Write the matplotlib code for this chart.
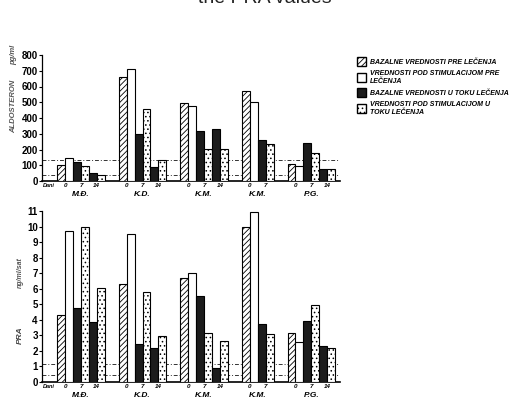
import numpy as np
import matplotlib
matplotlib.use("Agg")
import matplotlib.pyplot as plt
from matplotlib.patches import Patch
from matplotlib.transforms import blended_transform_factory

patients = ['M.Đ.', 'K.D.', 'K.M.', 'K.M.', 'P.G.']
days = [[0, 7, 14], [0, 7, 14], [0, 7, 14], [0, 7], [0, 7, 14]]

# aldosterone pg/ml
aldo_basal = [[100, 120, 53], [660, 297, 89], [497, 318, 327], [573, 263], [110, 242, 78]]
aldo_stim = [[148, 95, 40], [709, 460, 136], [475, 206, 204], [503, 233], [93, 178, 78]]
aldo_ref = [131, 40]

# PRA ng/ml/sat
pra_basal = [[4.3, 4.75, 3.86], [6.3, 2.47, 2.2], [6.72, 5.54, 0.87], [9.98, 3.73], [3.16, 3.94, 2.35]]
pra_stim = [[9.7, 9.98, 6.03], [9.55, 5.78, 2.99], [6.99, 3.16, 2.67], [10.94, 3.09], [2.58, 4.97, 2.17]]
pra_ref = [1.17, 0.43]

legend_labels = ['BAZALNE VREDNOSTI PRE LEČENJA',
                 'VREDNOSTI POD STIMULACIJOM PRE\nLEČENJA',
                 'BAZALNE VREDNOSTI U TOKU LEČENJA',
                 'VREDNOSTI POD STIMULACIJOM U\nTOKU LEČENJA']

plt.rcParams['font.family'] = ['Liberation Sans', 'DejaVu Sans']
plt.rcParams['hatch.linewidth'] = 0.6

BLACK = '#1c1c1c'
GAP = 1.75


def group_starts():
    starts = []
    x = 0.0
    for d in days:
        starts.append(x)
        x += 2 * len(d) + GAP
    return starts


def below(ax, x, s, dy, **kw):
    # text placed a fixed number of points under the x axis
    tr = blended_transform_factory(ax.transData, ax.transAxes)
    ax.annotate(s, xy=(x, 0), xycoords=tr, xytext=(0, dy), textcoords='offset points',
                ha=kw.pop('ha', 'center'), va='center', fontstyle='italic',
                fontweight='bold', annotation_clip=False, **kw)


def draw(ax, basal, stim, ref, ymax, yticks):
    starts = group_starts()
    for g, x0 in enumerate(starts):
        for i, d in enumerate(days[g]):
            xb = x0 + 2 * i
            if i == 0:
                ax.bar(xb, basal[g][i], 1, align='edge', facecolor='white',
                       edgecolor='black', hatch='//////', lw=0.8, zorder=3)
                ax.bar(xb + 1, stim[g][i], 1, align='edge', facecolor='white',
                       edgecolor='black', lw=0.8, zorder=3)
            else:
                ax.bar(xb, basal[g][i], 1, align='edge', facecolor=BLACK,
                       edgecolor='black', lw=0.8, zorder=3)
                ax.bar(xb + 1, stim[g][i], 1, align='edge', facecolor='white',
                       edgecolor='black', hatch='....', lw=0.8, zorder=3)
            below(ax, xb + 1, str(d), -3.5, fontsize=4.5)
        below(ax, x0 + len(days[g]), patients[g], -9.5, fontsize=6)
    below(ax, -1.8, 'Dani', -3.5, fontsize=4, ha='left')
    for r in ref:
        ax.axhline(r, color='#333333', lw=0.7, ls=(0, (4, 2, 1, 2)), zorder=1)
    ax.set_xlim(-1.9, 35.6)
    ax.set_ylim(0, ymax)
    ax.set_yticks(yticks)
    ax.tick_params(axis='y', length=2, width=0.8, labelsize=7, pad=1)
    ax.set_xticks([])
    for lab in ax.get_yticklabels():
        lab.set_fontweight('bold')
    ax.spines['top'].set_visible(False)
    ax.spines['right'].set_visible(False)
    ax.spines['left'].set_linewidth(0.9)
    ax.spines['bottom'].set_linewidth(1.2)


fig = plt.figure(figsize=(5.19, 4.0), dpi=100)

ax1 = fig.add_axes([0.081, 0.5475, 0.574, 0.315])
draw(ax1, aldo_basal, aldo_stim, aldo_ref, 800, np.arange(0, 801, 100))

ax2 = fig.add_axes([0.081, 0.045, 0.574, 0.427])
draw(ax2, pra_basal, pra_stim, pra_ref, 11, np.arange(0, 12, 1))

fig.text(0.026, 0.735, 'ALDOSTERON', rotation=90, fontsize=5.5, fontstyle='italic',
         fontweight='bold', color='#555555', ha='center', va='center')
fig.text(0.026, 0.862, 'pg/ml', rotation=90, fontsize=5.5, fontstyle='italic',
         fontweight='bold', color='#555555', ha='center', va='center')
fig.text(0.039, 0.162, 'PRA', rotation=90, fontsize=6, fontstyle='italic',
         fontweight='bold', color='#444444', ha='center', va='center')
fig.text(0.039, 0.318, 'ng/ml/sat', rotation=90, fontsize=5, fontstyle='italic',
         fontweight='bold', color='#555555', ha='center', va='center')

# title sits partly above the page edge, as in the scan
fig.text(0.51, 1.003, 'the PRA values', fontsize=14, color='#222222',
         ha='center', va='center')

handles = [Patch(facecolor='white', edgecolor='black', hatch='//////'),
           Patch(facecolor='white', edgecolor='black'),
           Patch(facecolor=BLACK, edgecolor='black'),
           Patch(facecolor='white', edgecolor='black', hatch='....')]
fig.legend(handles, legend_labels, loc='upper left', bbox_to_anchor=(0.682, 0.865),
           frameon=False, prop={'size': 5, 'style': 'italic', 'weight': 'bold'},
           handlelength=1.4, handleheight=1.6, handletextpad=0.5, labelspacing=0.55,
           borderaxespad=0)

fig.savefig('out.png', dpi=100, facecolor='white')
